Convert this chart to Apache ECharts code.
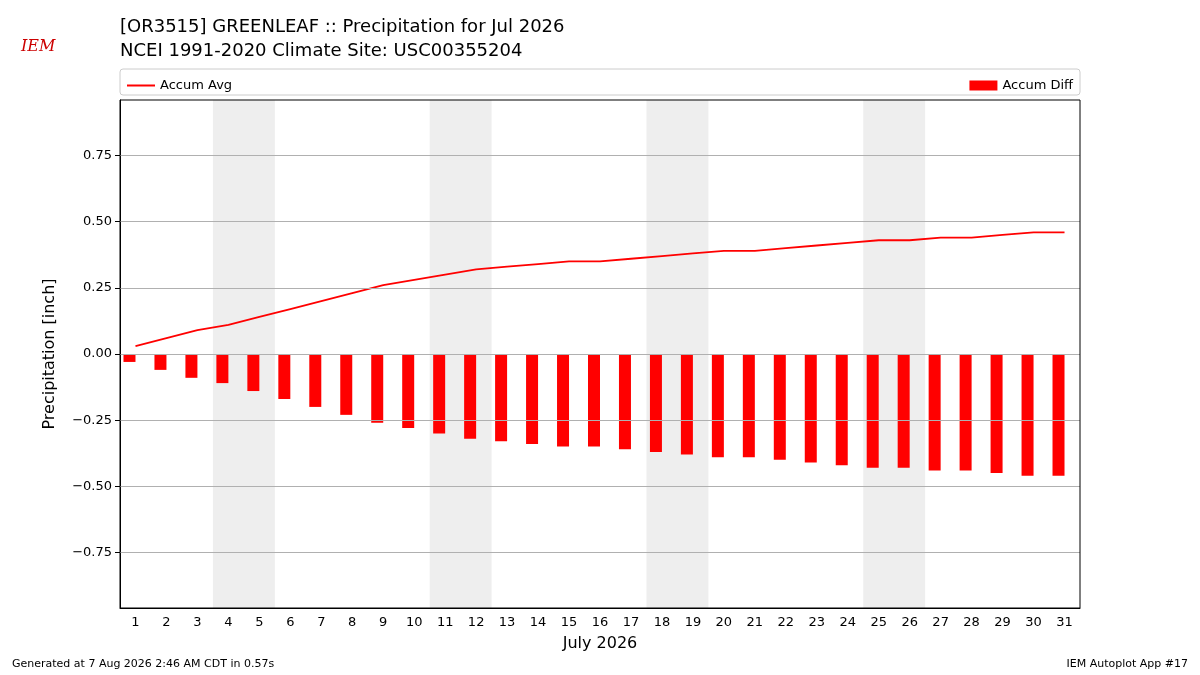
<!DOCTYPE html>
<html><head><meta charset="utf-8">
<script src="https://cdn.jsdelivr.net/npm/echarts@6/dist/echarts.min.js"></script>
<style>html,body{margin:0;background:#fff}#chart{width:1200px;height:675px}</style>
</head><body><div id="chart"></div>
<script>
// July 2026 days, accumulated climatology and departure (inch)
const days = Array.from({length: 31}, (_, i) => String(i + 1));
const accumAvg = [0.03,0.06,0.09,0.11,0.14,0.17,0.20,0.23,0.26,0.28,0.30,0.32,0.33,0.34,0.35,0.35,0.36,0.37,0.38,0.39,0.39,0.40,0.41,0.42,0.43,0.43,0.44,0.44,0.45,0.46,0.46];
const accumDiff = [-0.03,-0.06,-0.09,-0.11,-0.14,-0.17,-0.20,-0.23,-0.26,-0.28,-0.30,-0.32,-0.33,-0.34,-0.35,-0.35,-0.36,-0.37,-0.38,-0.39,-0.39,-0.40,-0.41,-0.42,-0.43,-0.43,-0.44,-0.44,-0.45,-0.46,-0.46];
const yTicks = [-0.75, -0.5, -0.25, 0, 0.25, 0.5, 0.75];
const weekends = [[4, 5], [11, 12], [18, 19], [25, 26]];

const font = 'DejaVu Sans';
const chart = echarts.init(document.getElementById('chart'));
chart.setOption({
  animation: false,
  textStyle: {fontFamily: font},
  title: [
    {text: '[OR3515] GREENLEAF :: Precipitation for Jul 2026\nNCEI 1991-2020 Climate Site: USC00355204',
     left: 115, top: 10, textStyle: {fontSize: 18, fontWeight: 'normal', color: '#000', lineHeight: 24, fontFamily: font}},
    {text: 'IEM', left: 16, top: 34, textStyle: {fontSize: 16, fontStyle: 'italic', fontWeight: 'normal', color: '#c00', fontFamily: 'DejaVu Serif'}},
    {text: 'Generated at 7 Aug 2026 2:46 AM CDT in 0.57s', left: 7, bottom: 0, textStyle: {fontSize: 11, fontWeight: 'normal', color: '#000', fontFamily: font}},
    {text: 'IEM Autoplot App #17', right: 7, bottom: 0, textStyle: {fontSize: 11, fontWeight: 'normal', color: '#000', fontFamily: font}}
  ],
  legend: [
    {data: [{name: 'Accum Avg', icon: 'rect'}], left: 122, top: 74, itemWidth: 28, itemHeight: 2, textStyle: {fontSize: 13, color: '#000'}},
    {data: [{name: 'Accum Diff', icon: 'rect'}], right: 122, top: 74, itemWidth: 28, itemHeight: 10, textStyle: {fontSize: 13, color: '#000'}}
  ],
  graphic: [
    {type: 'rect', shape: {x: 120, y: 69, width: 960, height: 26, r: 3}, style: {fill: 'none', stroke: '#ccc'}},
    {type: 'rect', z: 10, shape: {x: 120, y: 100, width: 960, height: 508}, style: {fill: 'none', stroke: '#000', lineWidth: 1}}
  ],
  grid: {left: 120, right: 120, top: 100, bottom: 67},
  xAxis: [{
    type: 'category', data: days, name: 'July 2026', nameLocation: 'middle', nameGap: 28,
    nameTextStyle: {fontSize: 16, color: '#000'},
    axisLine: {onZero: false, lineStyle: {color: '#000'}},
    axisTick: {alignWithLabel: true, lineStyle: {color: '#000'}},
    axisLabel: {color: '#000', fontSize: 13}
  }, {
    type: 'value', min: 0.5, max: 31.5, show: false
  }],
  yAxis: {
    type: 'value', min: -0.96, max: 0.96, name: 'Precipitation [inch]', nameLocation: 'middle', nameGap: 62,
    nameTextStyle: {fontSize: 16, color: '#000'},
    axisLine: {show: true, lineStyle: {color: '#000'}},
    axisTick: {show: true, customValues: yTicks, lineStyle: {color: '#000'}},
    axisLabel: {customValues: yTicks, color: '#000', fontSize: 13, formatter: v => v.toFixed(2).replace('-', '\u2212')},
    splitLine: {show: false}
  },
  series: [
    {name: 'weekend', type: 'line', xAxisIndex: 1, data: [], silent: true,
     markArea: {silent: true, itemStyle: {color: '#eeeeee'}, data: weekends.map(w => [{xAxis: w[0] - 0.5}, {xAxis: w[1] + 0.5}])}},
    {name: 'Accum Diff', type: 'bar', data: accumDiff, barWidth: 12, barGap: '0%', itemStyle: {color: '#ff0000'},
     markLine: {silent: true, symbol: 'none', label: {show: false}, lineStyle: {color: '#b0b0b0', type: 'solid', width: 1},
       data: yTicks.map(v => ({yAxis: v}))}, z: 3},
    {name: 'spacer', type: 'bar', data: days.map(() => null), barWidth: 12},
    {name: 'Accum Avg', type: 'line', data: accumAvg, symbol: 'none', lineStyle: {color: '#ff0000', width: 1.8}, itemStyle: {color: '#ff0000'}, z: 4}
  ]
});
</script></body></html>
